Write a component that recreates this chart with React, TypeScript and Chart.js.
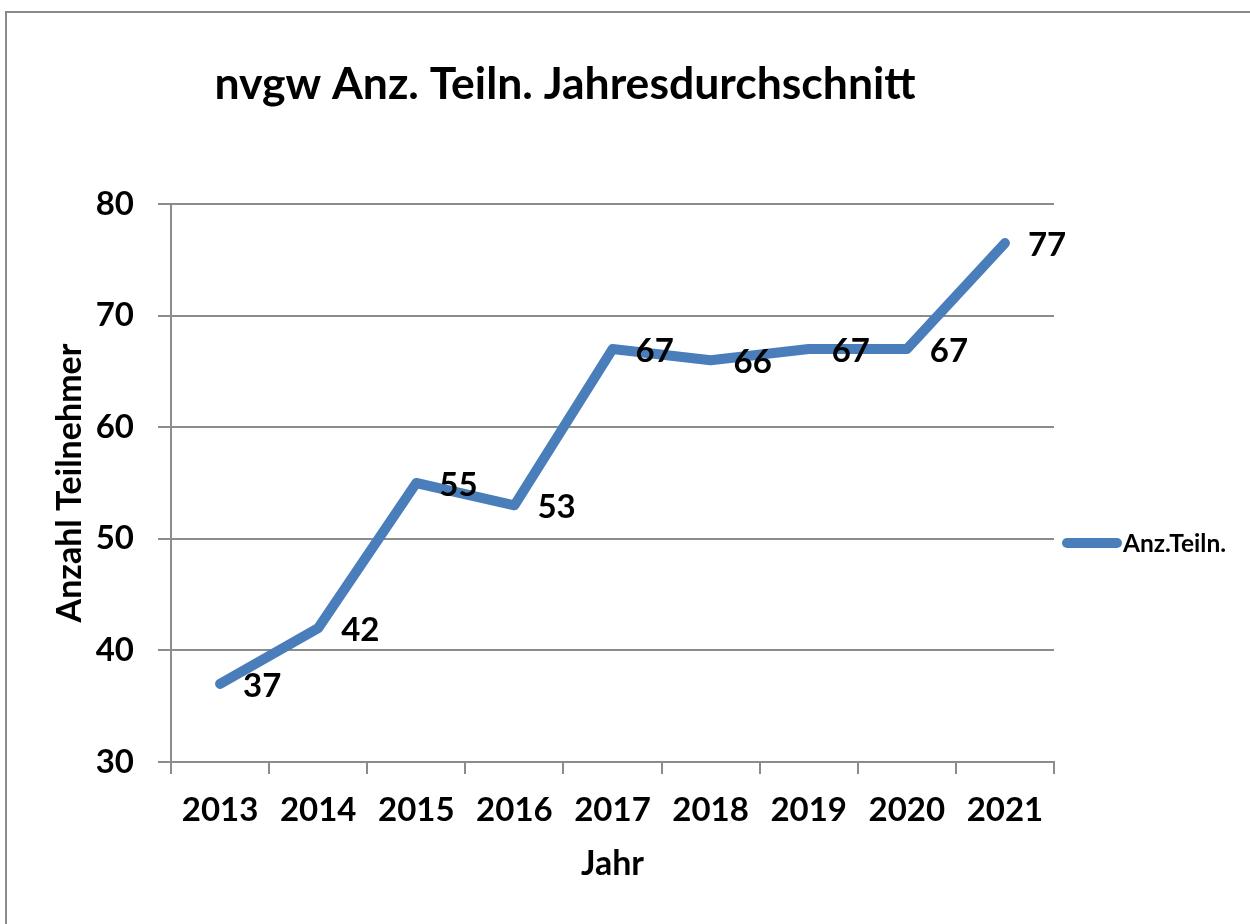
import React, { useEffect, useRef } from "react";
import { Chart, registerables } from "chart.js";

Chart.register(...registerables);

const chartTitle = "nvgw Anz. Teiln. Jahresdurchschnitt";
const years = ["2013", "2014", "2015", "2016", "2017", "2018", "2019", "2020", "2021"];
const seriesLabel = "Anz.Teiln.";
const participants = [37, 42, 55, 53, 67, 66, 67, 67, 76.5];
const yMin = 30;
const yMax = 80;
const yStep = 10;
const xAxisTitle = "Jahr";
const yAxisTitle = "Anzahl Teilnehmer";

const FONT = "Lato, 'Open Sans', sans-serif";
const LINE_COLOR = "#4A7EBB";
const GRID_COLOR = "#8c8c8c";

const decorPlugin = {
  id: "decor",
  beforeDraw(chart: any) {
    const ctx = chart.ctx;
    ctx.save();
    ctx.fillStyle = "#ffffff";
    ctx.fillRect(0, 0, chart.width, chart.height);
    ctx.strokeStyle = "#8a8a8a";
    ctx.lineWidth = 2;
    ctx.strokeRect(6, 12, chart.width + 20, chart.height + 20);
    ctx.restore();
  },
  afterDatasetsDraw(chart: any) {
    const ctx = chart.ctx;
    const meta = chart.getDatasetMeta(0);
    ctx.save();
    ctx.fillStyle = "#000";
    ctx.font = `bold 33px ${FONT}`;
    ctx.textAlign = "left";
    ctx.textBaseline = "middle";
    meta.data.forEach((pt: any, i: number) => {
      const v = chart.data.datasets[0].data[i];
      ctx.fillText(String(Math.round(v)), pt.x + 23, pt.y + 2);
    });
    ctx.restore();
  },
  afterDraw(chart: any) {
    const ctx = chart.ctx;
    ctx.save();
    // title
    ctx.fillStyle = "#000";
    ctx.font = `bold 44.5px ${FONT}`;
    ctx.textAlign = "center";
    ctx.textBaseline = "middle";
    ctx.fillText(chartTitle, 565, 85);
    // legend
    const ds = chart.data.datasets[0];
    ctx.strokeStyle = ds.borderColor;
    ctx.lineWidth = ds.borderWidth;
    ctx.lineCap = "round";
    ctx.beginPath();
    ctx.moveTo(1067, 543);
    ctx.lineTo(1117, 543);
    ctx.stroke();
    ctx.font = `bold 24.5px ${FONT}`;
    ctx.textAlign = "left";
    ctx.fillText(ds.label, 1123, 544);
    ctx.restore();
  },
};

export default function App() {
  const ref = useRef<HTMLCanvasElement | null>(null);

  useEffect(() => {
    if (!ref.current) return;
    const chart = new Chart(ref.current, {
      type: "line",
      data: {
        labels: years,
        datasets: [
          {
            label: seriesLabel,
            data: participants,
            borderColor: LINE_COLOR,
            backgroundColor: LINE_COLOR,
            borderWidth: 10,
            borderCapStyle: "round",
            borderJoinStyle: "round",
            pointRadius: 0,
            pointHoverRadius: 0,
            tension: 0,
            fill: false,
          },
        ],
      },
      plugins: [decorPlugin],
      options: {
        responsive: false,
        animation: false,
        devicePixelRatio: 1,
        layout: { padding: { top: 204, right: 196, bottom: 0, left: 0 } },
        plugins: {
          legend: { display: false },
          title: { display: false },
          tooltip: { enabled: false },
        },
        scales: {
          x: {
            type: "category",
            offset: true,
            afterFit: (s: any) => {
              s.height = 162;
            },
            grid: {
              offset: true,
              drawOnChartArea: false,
              drawTicks: true,
              tickLength: 12,
              color: GRID_COLOR,
              lineWidth: 2,
            },
            border: { display: true, color: GRID_COLOR, width: 2 },
            ticks: {
              color: "#000",
              padding: 17,
              font: { family: FONT, weight: "bold", size: 33 },
              maxRotation: 0,
            },
            title: {
              display: true,
              text: xAxisTitle,
              color: "#000",
              font: { family: FONT, weight: "bold", size: 34 },
              padding: { top: 0, bottom: 40 },
            },
          },
          y: {
            min: yMin,
            max: yMax,
            afterFit: (s: any) => {
              s.width = 171;
            },
            ticks: {
              stepSize: yStep,
              color: "#000",
              padding: 24,
              font: { family: FONT, weight: "bold", size: 33 },
            },
            grid: {
              color: GRID_COLOR,
              lineWidth: 2,
              drawTicks: true,
              tickLength: 13,
            },
            border: { display: true, color: GRID_COLOR, width: 2 },
            title: {
              display: true,
              text: yAxisTitle,
              color: "#000",
              font: { family: FONT, weight: "bold", size: 34 },
              padding: { top: 50, bottom: 0 },
            },
          },
        },
      },
    } as any);
    return () => chart.destroy();
  }, []);

  return (
    <div style={{ position: "fixed", left: 0, top: 0, width: 1250, height: 924, background: "#fff" }}>
      <canvas ref={ref} width={1250} height={924} style={{ display: "block", width: 1250, height: 924 }} />
    </div>
  );
}
